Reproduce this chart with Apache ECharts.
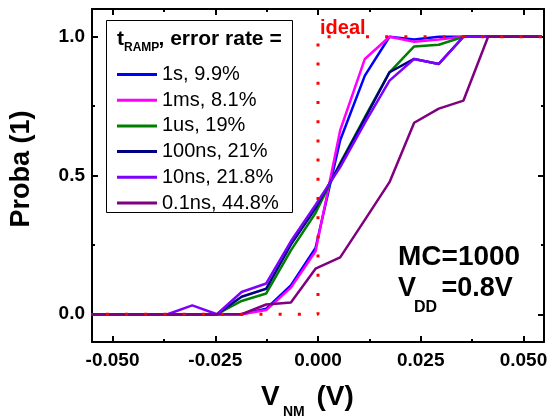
<!DOCTYPE html>
<html><head><meta charset="utf-8">
<script src="https://cdn.jsdelivr.net/npm/echarts@6/dist/echarts.min.js"></script>
<style>html,body{margin:0;padding:0;background:#fff}#c{width:548px;height:419px}</style>
</head><body><div id="c"></div>
<script>
// ---- data ----
const vnm = [-0.0552, -0.0486, -0.0426, -0.0366, -0.0306, -0.0246, -0.0186, -0.0126, -0.0066, -0.0006,
             0.0054, 0.0114, 0.0174, 0.0234, 0.0294, 0.0354, 0.0414, 0.0474, 0.0545];
const p1s    = [0,0,0,0,0,0, 0,     0.02,  0.104, 0.239, 0.627, 0.86,  1.0,   0.99,  1.0,   1,    1,1,1];
const p1ms   = [0,0,0,0,0,0, 0,     0.015, 0.096, 0.227, 0.663, 0.92,  1.0,   0.982, 0.99,  1,    1,1,1];
const p1us   = [0,0,0,0,0,0, 0.048, 0.075, 0.23,  0.365, 0.545, 0.71,  0.872, 0.965, 0.971, 1,    1,1,1];
const p100ns = [0,0,0,0,0,0, 0.063, 0.092, 0.251, 0.382, 0.54,  0.705, 0.872, 0.92,  0.902, 1,    1,1,1];
const p10ns  = [0,0,0,0,0.032,0, 0.08, 0.111, 0.263, 0.394, 0.53, 0.69, 0.842, 0.92,  0.902, 1,    1,1,1];
const p01ns  = [0,0,0,0,0,0, 0,     0.035, 0.042, 0.164, 0.205, 0.34,  0.476, 0.69,  0.741, 0.77, 1,1,1];
const seriesNames = ['1s, 9.9%', '1ms, 8.1%', '1us, 19%', '100ns, 21%', '10ns, 21.8%', '0.1ns, 44.8%'];
const seriesValues = [p1s, p1ms, p1us, p100ns, p10ns, p01ns];
const seriesColors = ['#0000ff', '#ff00ff', '#008000', '#000080', '#8000ff', '#800080'];
const idealX = [-0.0563, 0, 0, 0.055];
const idealY = [0, 0, 1, 1];
const xMajor = [-0.05, -0.025, 0, 0.025, 0.05];
const xMinor = [-0.0375, -0.0125, 0.0125, 0.0375];
const yMajor = [0, 0.5, 1];
const yMinor = [0.25, 0.75];

const FONT = 'Liberation Sans, Arial, Helvetica, sans-serif';
const chart = echarts.init(document.getElementById('c'), null, {renderer: 'canvas'});

function xAx(pos, vals, len, labels, line) {
  return {
    type: 'value', position: pos, min: -0.055, max: 0.055, gridIndex: 0,
    axisLine: {show: line, onZero: false, lineStyle: {color: '#000', width: 2}},
    axisTick: {show: true, inside: true, length: len, customValues: vals, lineStyle: {color: '#000', width: 2}},
    axisLabel: labels ? {show: true, customValues: vals, margin: 9, color: '#000',
      fontFamily: FONT, fontWeight: 'bold', fontSize: 19,
      formatter: v => v.toFixed(3)} : {show: false},
    splitLine: {show: false}, minorTick: {show: false}
  };
}
function yAx(pos, vals, len, labels, line, extra) {
  return Object.assign({
    type: 'value', position: pos, min: -0.1, max: 1.1, gridIndex: 0,
    axisLine: {show: line, onZero: false, lineStyle: {color: '#000', width: 2}},
    axisTick: {show: true, inside: true, length: len, customValues: vals, lineStyle: {color: '#000', width: 2}},
    axisLabel: labels ? {show: true, customValues: vals, margin: 7, color: '#000',
      fontFamily: FONT, fontWeight: 'bold', fontSize: 19,
      formatter: v => v.toFixed(1)} : {show: false},
    splitLine: {show: false}, minorTick: {show: false}
  }, extra || {});
}

const series = seriesNames.map((n, i) => ({
  type: 'line', name: n, xAxisIndex: 0, yAxisIndex: 0,
  data: vnm.map((x, j) => [x, seriesValues[i][j]]),
  symbol: 'none', animation: false,
  lineStyle: {color: seriesColors[i], width: 2.5},
  itemStyle: {color: seriesColors[i]}
}));
series.push({
  type: 'line', name: 'ideal', xAxisIndex: 0, yAxisIndex: 0,
  data: idealX.map((x, j) => [x, idealY[j]]),
  symbol: 'none', clip: false, silent: true, animation: false, z: 5,
  lineStyle: {color: '#ff0000', width: 3, type: [3, 16.2], cap: 'butt'}
});

function txt(x, y, text, size, color) {
  return {type: 'text', z: 10, style: {x: x, y: y, text: text, fill: color || '#000',
    font: 'bold ' + size + 'px ' + FONT, verticalAlign: 'middle'}};
}

chart.setOption({
  animation: false,
  backgroundColor: '#fff',
  grid: {left: 92, right: 4, top: 9, bottom: 77, containLabel: false, outerBoundsMode: 'none'},
  xAxis: [
    xAx('bottom', xMajor, 6, true, true),
    xAx('bottom', xMinor, 3, false, false),
    xAx('top', xMajor, 6, false, true),
    xAx('top', xMinor, 3, false, false)
  ],
  yAxis: [
    yAx('left', yMajor, 6, true, true, {
      name: 'Proba (1)', nameLocation: 'middle', nameGap: 57, nameRotate: 90,
      nameTextStyle: {fontFamily: FONT, fontWeight: 'bold', fontSize: 27, color: '#000', padding: [0, 0, 0, 13]}
    }),
    yAx('left', yMinor, 3, false, false),
    yAx('right', yMajor, 6, false, true),
    yAx('right', yMinor, 3, false, false)
  ],
  legend: {
    orient: 'vertical', left: 112, top: 59.5, itemWidth: 40, itemHeight: 3, itemGap: 5.7,
    icon: 'rect', selectedMode: false, data: seriesNames, padding: 5,
    textStyle: {fontFamily: FONT, fontSize: 20, lineHeight: 20, color: '#000'}
  },
  graphic: [
    {type: 'rect', z: 1, shape: {x: 106.5, y: 20.5, width: 186, height: 192},
     style: {fill: '#fff', stroke: '#000', lineWidth: 1}},
    txt(117, 39.3, 't', 21),
    txt(124, 47.5, 'RAMP', 12),
    txt(158.5, 39.3, ', error rate =', 21),
    txt(320, 28, 'ideal', 20, '#ff0000'),
    txt(398, 257.2, 'MC=1000', 28),
    txt(398, 288.8, 'V', 27),
    txt(414, 307.5, 'DD', 16),
    txt(441.5, 288.8, '=0.8V', 27),
    // x-axis title V_NM (V)
    txt(261, 396.9, 'V', 28),
    txt(283, 412.1, 'NM', 14),
    txt(316.5, 396.9, '(V)', 28)
  ],
  series: series
});
</script></body></html>
